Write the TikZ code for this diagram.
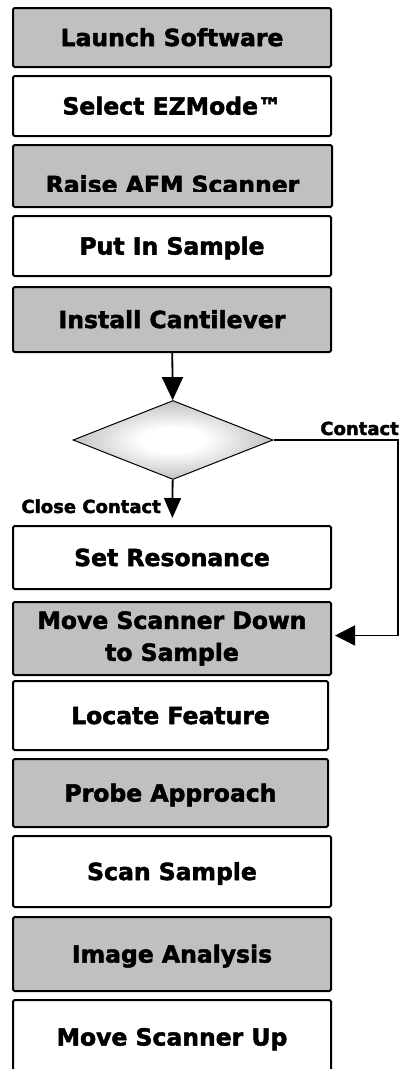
\documentclass[tikz,border=0pt]{standalone}
\usepackage{fontspec}
\setmainfont{DejaVu Sans}[BoldFeatures={FakeBold=2.2}]
\usetikzlibrary{shapes.geometric,arrows.meta}
\definecolor{stepgray}{HTML}{C0C0C0}
\newcommand\stepfont{\bfseries\fontsize{23.5}{32}\selectfont}
\newcommand\branchfont{\bfseries\fontsize{18}{20}\selectfont}
\pgfdeclareradialshading{diamondglow}{\pgfpoint{0bp}{0bp}}{%
  color(0bp)=(white); color(8bp)=(white); color(36bp)=(gray!80); color(50bp)=(gray!80)}
\begin{document}
\begin{tikzpicture}[x=1pt,y=-1pt,
  stepbox/.style={draw=black,line width=2pt,rounded corners=1.5pt,inner sep=0pt,
    align=center,font=\stepfont,text height=17pt,text depth=0pt},
  shaded/.style={fill=stepgray},
  plain/.style={fill=white},
  flow/.style={line width=1.8pt,-{Triangle[length=21pt,width=19pt]}},
  branch/.style={font=\branchfont,inner sep=0pt}]

\clip (0,0) rectangle (403,1069);

% process steps, top to bottom
\node[stepbox,shaded,minimum width=318pt,minimum height=59pt] (launch) at (172,37.5) {Launch Software};
\node[stepbox,plain,minimum width=318pt,minimum height=60pt] (ezmode) at (172,106) {Select EZMode™};
\node[stepbox,shaded,minimum width=319pt,minimum height=62pt] (raise) at (172.5,176) {};
\begin{scope}
  \clip (13,145) rectangle (332,191.5);
  \node[font=\stepfont,inner sep=0pt,anchor=base] (raisetext) at (172.5,193) {Raise AFM Scanner};
\end{scope}
\node[stepbox,plain,minimum width=318pt,minimum height=60pt] (sample) at (172,246) {Put In Sample};
\node[stepbox,shaded,minimum width=318pt,minimum height=65pt] (install) at (172,319.5) {Install Cantilever};

% decision
\node[diamond,draw=black,line width=1pt,minimum width=200pt,minimum height=79pt,
  aspect=2.53,inner sep=0pt,shading=diamondglow] (check) at (173,440) {};

\node[stepbox,plain,minimum width=318pt,minimum height=63pt] (resonance) at (172,557.5) {Set Resonance};
\node[stepbox,shaded,minimum width=318pt,minimum height=73pt,text height=,text depth=,yshift=-3pt] (movedown) at (172,635.5) {Move Scanner Down\\to Sample};
\node[stepbox,plain,minimum width=315pt,minimum height=69pt] (locate) at (170.5,715.5) {Locate Feature};
\node[stepbox,shaded,minimum width=315pt,minimum height=68pt] (probe) at (170.5,793) {Probe Approach};
\node[stepbox,plain,minimum width=318pt,minimum height=71pt] (scan) at (172,871.5) {Scan Sample};
\node[stepbox,shaded,minimum width=318pt,minimum height=74pt] (analysis) at (172,954) {Image Analysis};
\node[stepbox,plain,minimum width=318pt,minimum height=74pt] (moveup) at (172,1037) {Move Scanner Up};

% connectors
\draw[flow,-{Triangle[length=23pt,width=21pt]}] (install) -- (check);
\draw[flow,-{Triangle[length=20pt,width=17pt]},shorten >=7pt] (check) -- (resonance);
\coordinate (bend) at (398,635.5);
\draw[flow,-{Triangle[length=20pt,width=20pt]},shorten >=3pt] (check.east) -| (bend) -- (movedown.east |- bend);

% branch labels
\node[branch,anchor=base east] (closelbl) at (161,513) {Close Contact};
\node[branch,anchor=base east] (contactlbl) at (399,435) {Contact};
\end{tikzpicture}
\end{document}
